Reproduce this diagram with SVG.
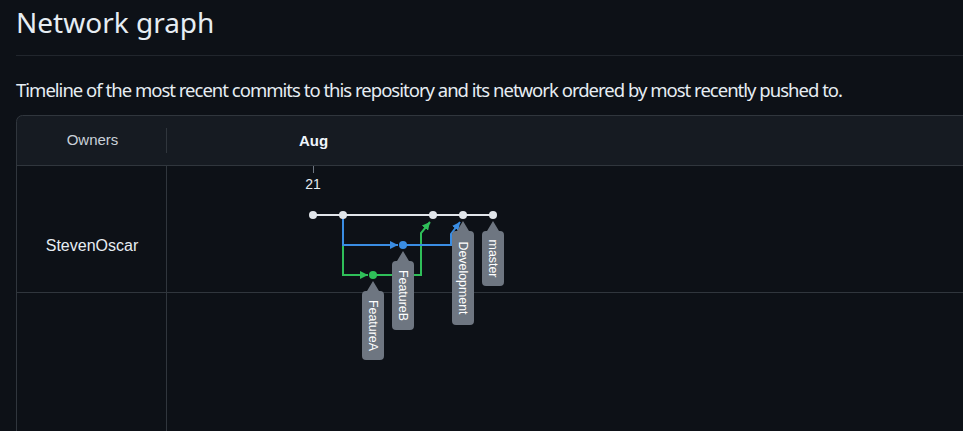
<svg xmlns="http://www.w3.org/2000/svg" width="963" height="431" viewBox="0 0 963 431">
  <style>
    .ui { font-family: "Noto Sans", "Open Sans", "Liberation Sans", sans-serif; fill: #e6edf3; }
    .ar { font-family: "Liberation Sans", Arial, sans-serif; }
    .grid { stroke: #30363d; stroke-width: 1; fill: none; }
    .main { stroke: #e1e5ea; stroke-width: 2; fill: none; }
    .blue { stroke: #3a8de3; stroke-width: 2; fill: none; }
    .green { stroke: #2fbf59; stroke-width: 2; fill: none; }
    .dot { fill: #e1e5ea; }
    .lbl { fill: #6e7681; }
    .lbltxt { font-family: "Liberation Sans", Arial, sans-serif; font-size: 12.4px; fill: #ffffff; text-anchor: middle; }
  </style>
  <defs>
    <marker id="arrB" viewBox="0 0 8 8" refX="8" refY="4" markerWidth="8" markerHeight="8" markerUnits="userSpaceOnUse" orient="auto">
      <path d="M0,0 L8,4 L0,8 z" fill="#3a8de3"/>
    </marker>
    <marker id="arrG" viewBox="0 0 8 8" refX="8" refY="4" markerWidth="8" markerHeight="8" markerUnits="userSpaceOnUse" orient="auto">
      <path d="M0,0 L8,4 L0,8 z" fill="#2fbf59"/>
    </marker>
    <path id="tagShape" d="M0,0 L6,10 L7,10 A4,4 0 0 1 11,14 L11,0 Z"/>
  </defs>

  <rect x="0" y="0" width="963" height="431" fill="#0d1117"/>

  <!-- Page header -->
  <text class="ui" x="16" y="33" font-size="28">Network graph</text>
  <line x1="16" y1="55.5" x2="963" y2="55.5" stroke="#21262d" stroke-width="1"/>
  <text class="ui" x="16" y="97" font-size="18.5" textLength="827">Timeline of the most recent commits to this repository and its network ordered by most recently pushed to.</text>

  <!-- Table frame -->
  <g id="table">
    <path d="M16.5,1000 V121.5 A6,6 0 0 1 22.5,115.5 H1000" fill="#161b22" stroke="none"/>
    <rect x="16.5" y="115.5" width="1000" height="50" rx="6" fill="#161b22"/>
    <rect x="17" y="165.5" width="1000" height="300" fill="#0d1117"/>
    <rect x="16.5" y="115.5" width="1000" height="500" rx="6" class="grid"/>
    <line class="grid" x1="16.5" y1="165.5" x2="963" y2="165.5"/>
    <line class="grid" x1="16.5" y1="292.5" x2="963" y2="292.5"/>
    <line class="grid" x1="166.5" y1="128" x2="166.5" y2="153"/>
    <line class="grid" x1="166.5" y1="166" x2="166.5" y2="431"/>
    <text class="ar" x="92.5" y="145" font-size="15" fill="#c9d1d9" text-anchor="middle">Owners</text>
    <text class="ar" x="313.5" y="146" font-size="15" font-weight="bold" fill="#f0f6fc" text-anchor="middle">Aug</text>
    <line x1="313.5" y1="166" x2="313.5" y2="173" stroke="#6e7681" stroke-width="1"/>
    <text class="ar" x="313" y="189" font-size="14" fill="#e6edf3" text-anchor="middle">21</text>
    <text class="ar" x="92" y="251" font-size="16" fill="#e6edf3" text-anchor="middle">StevenOscar</text>
  </g>

  <!-- Connectors -->
  <g id="connectors">
    <path class="main" d="M313,215 H493"/>
    <path class="green" d="M343,245 V275 H368" marker-end="url(#arrG)"/>
    <path class="green" d="M373,275 H421 V233 L430,222" marker-end="url(#arrG)"/>
    <path class="blue" d="M343,215 V245 H398" marker-end="url(#arrB)"/>
    <path class="blue" d="M403,245 H451 V234 L460,222" marker-end="url(#arrB)"/>
  </g>

  <!-- Commit nodes -->
  <g id="commit-1"><circle class="dot" cx="313" cy="215" r="4"/></g>
  <g id="commit-2"><circle class="dot" cx="343" cy="215" r="4"/></g>
  <g id="commit-3"><circle class="dot" cx="433" cy="215" r="4"/></g>
  <g id="commit-4"><circle class="dot" cx="463" cy="215" r="4"/></g>
  <g id="commit-5"><circle class="dot" cx="493" cy="215" r="4"/></g>
  <g id="commit-featureB"><circle cx="403" cy="245" r="4" fill="#3a8de3"/></g>
  <g id="commit-featureA"><circle cx="373" cy="275" r="4" fill="#2fbf59"/></g>

  <!-- Branch labels -->
  <g id="label-featureA">
    <path class="lbl" d="M373,281 L379,291 H380 A4,4 0 0 1 384,295 V356 A4,4 0 0 1 380,360 H366 A4,4 0 0 1 362,356 V295 A4,4 0 0 1 366,291 H367 Z"/>
    <text class="lbltxt" transform="translate(368.5,325.5) rotate(90)">FeatureA</text>
  </g>
  <g id="label-featureB">
    <path class="lbl" d="M403,251 L409,261 H410 A4,4 0 0 1 414,265 V326 A4,4 0 0 1 410,330 H396 A4,4 0 0 1 392,326 V265 A4,4 0 0 1 396,261 H397 Z"/>
    <text class="lbltxt" transform="translate(398.5,295.5) rotate(90)">FeatureB</text>
  </g>
  <g id="label-development">
    <path class="lbl" d="M463,221 L469,231 H470 A4,4 0 0 1 474,235 V321 A4,4 0 0 1 470,325 H456 A4,4 0 0 1 452,321 V235 A4,4 0 0 1 456,231 H457 Z"/>
    <text class="lbltxt" transform="translate(458.5,278) rotate(90)">Development</text>
  </g>
  <g id="label-master">
    <path class="lbl" d="M493,221 L499,231 H500 A4,4 0 0 1 504,235 V282 A4,4 0 0 1 500,286 H486 A4,4 0 0 1 482,282 V235 A4,4 0 0 1 486,231 H487 Z"/>
    <text class="lbltxt" transform="translate(488.5,258.5) rotate(90)">master</text>
  </g>
</svg>
